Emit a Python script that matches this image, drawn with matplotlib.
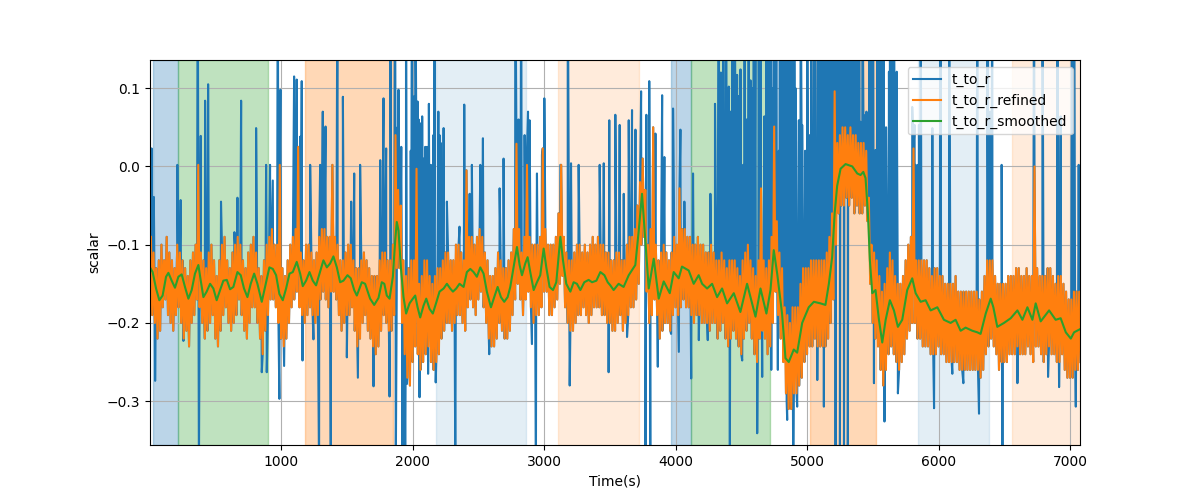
import numpy as np
import matplotlib
matplotlib.use("Agg")
import matplotlib.pyplot as plt

# ---------------- data ----------------
# t_to_r_refined: local maxima (t = 10, 30, 50, ...) and minima (t = 20, 40, 60, ...)
peak_start, trough_start, half_period = 10, 20, 20

refined_peaks = [
    -0.09, -0.11, -0.13, -0.12, -0.10, -0.12, -0.09, -0.11, -0.12, -0.13,
    -0.10, -0.11, -0.12, -0.13, -0.14, -0.12, -0.11, -0.10, 0.002, -0.11,
    -0.12, -0.13, -0.11, -0.10, -0.12, -0.14, -0.12, -0.10, -0.09, -0.12,
    -0.13, -0.11, -0.10, -0.09, -0.10, -0.12, -0.13, -0.11, -0.10, -0.09,
    -0.11, -0.13, -0.14, -0.12, -0.10, -0.09, -0.08, -0.10, -0.10, 0.002,
    -0.13, -0.14, -0.12, -0.10, -0.09, -0.08, 0.025, -0.11, -0.12, -0.10,
    -0.10, -0.11, -0.12, -0.11, -0.09, -0.08, -0.08, -0.09, -0.09, 0.002,
    -0.09, -0.10, -0.12, -0.12, -0.11, -0.10, -0.10, -0.12, -0.13, -0.13,
    -0.12, -0.11, -0.12, -0.13, -0.14, -0.14, -0.14, -0.12, -0.11, -0.11,
    -0.12, -0.12, -0.10, 0.04, -0.03, -0.05, -0.12, -0.14, -0.13, -0.12,
    -0.12, -0.003, -0.15, -0.14, -0.12, -0.12, -0.14, -0.15, -0.14, -0.13,
    -0.13, -0.12, -0.11, -0.11, -0.12, -0.12, -0.10, -0.10, -0.11, -0.12,
    -0.005, -0.09, -0.09, -0.10, -0.09, -0.08, -0.09, -0.11, -0.12, -0.14,
    -0.14, -0.13, -0.11, -0.12, -0.13, -0.13, -0.12, -0.11, -0.08, 0.029,
    -0.08, -0.11, -0.09, 0.002, -0.09, -0.10, -0.10, -0.10, -0.09, 0.023,
    -0.08, -0.10, -0.10, -0.10, -0.09, -0.06, 0.002, -0.09, -0.11, -0.12,
    -0.12, -0.11, -0.10, -0.10, -0.11, -0.10, -0.11, -0.10, -0.09, -0.10,
    -0.09, -0.10, -0.10, -0.11, -0.11, -0.12, -0.12, -0.11, -0.11, -0.12,
    -0.12, -0.10, -0.09, -0.09, -0.08, -0.05, -0.02, 0.01, -0.03, -0.10,
    -0.08, 0.05, -0.10, -0.12, -0.11, -0.10, -0.11, -0.12, -0.11, -0.09,
    -0.10, -0.028, -0.08, -0.08, -0.09, -0.09, -0.10, -0.10, -0.09, -0.10,
    -0.10, -0.11, -0.11, -0.10, -0.11, -0.12, -0.12, -0.11, -0.12, -0.13,
    -0.12, -0.12, -0.12, -0.13, -0.14, -0.12, -0.11, -0.10, -0.12, -0.13,
    -0.14, -0.12, -0.028, -0.12, -0.13, -0.12, -0.09, 0.051, -0.07, -0.11,
    -0.13, -0.18, -0.19, -0.20, -0.18, -0.18, -0.18, -0.15, -0.13, -0.13,
    -0.13, -0.12, -0.12, -0.12, -0.12, -0.12, -0.12, -0.11, -0.09, -0.06,
    0.096, 0.03, 0.04, 0.05, 0.05, 0.04, 0.05, 0.04, 0.04, 0.03,
    0.03, 0.03, 0.02, -0.04, -0.10, -0.11, -0.12, -0.14, -0.16, -0.15,
    -0.13, -0.11, -0.12, -0.14, -0.15, -0.15, -0.14, -0.12, -0.10, -0.09,
    0.023, -0.12, -0.12, -0.12, -0.12, -0.12, -0.13, -0.14, -0.13, -0.13,
    -0.14, -0.14, -0.15, -0.15, -0.15, -0.15, -0.14, -0.16, -0.16, -0.16,
    -0.16, -0.16, -0.16, -0.16, -0.16, -0.17, -0.16, -0.14, -0.12, -0.12,
    -0.12, -0.14, -0.15, -0.15, -0.15, -0.15, -0.14, -0.14, -0.14, -0.13,
    -0.13, -0.14, -0.14, -0.13, -0.14, -0.14, 0.0, -0.13, -0.14, -0.14,
    -0.14, -0.13, -0.13, -0.14, -0.15, -0.14, -0.14, -0.15, -0.16, -0.17,
    -0.17, -0.16, -0.16, -0.16,
]
refined_troughs = [
    -0.19, -0.20, -0.22, -0.21, -0.18, -0.17, -0.19, -0.20, -0.21, -0.19,
    -0.18, -0.20, -0.22, -0.21, -0.23, -0.20, -0.19, -0.17, -0.18, -0.20,
    -0.22, -0.21, -0.20, -0.19, -0.22, -0.23, -0.21, -0.19, -0.18, -0.20,
    -0.21, -0.20, -0.19, -0.17, -0.19, -0.21, -0.22, -0.20, -0.18, -0.18,
    -0.20, -0.22, -0.24, -0.21, -0.19, -0.17, -0.17, -0.18, -0.20, -0.22,
    -0.23, -0.22, -0.20, -0.18, -0.17, -0.16, -0.18, -0.19, -0.20, -0.19,
    -0.18, -0.19, -0.20, -0.19, -0.17, -0.16, -0.17, -0.18, -0.16, -0.16,
    -0.17, -0.19, -0.21, -0.20, -0.19, -0.19, -0.18, -0.21, -0.23, -0.22,
    -0.20, -0.19, -0.21, -0.22, -0.23, -0.24, -0.23, -0.21, -0.19, -0.20,
    -0.21, -0.21, -0.19, -0.13, -0.13, -0.20, -0.24, -0.27, -0.28, -0.25,
    -0.23, -0.24, -0.26, -0.25, -0.24, -0.23, -0.25, -0.26, -0.25, -0.24,
    -0.22, -0.21, -0.20, -0.20, -0.21, -0.20, -0.19, -0.19, -0.20, -0.21,
    -0.18, -0.17, -0.18, -0.19, -0.17, -0.16, -0.18, -0.20, -0.22, -0.23,
    -0.23, -0.22, -0.20, -0.21, -0.22, -0.22, -0.21, -0.19, -0.17, -0.15,
    -0.17, -0.19, -0.17, -0.16, -0.18, -0.20, -0.19, -0.19, -0.18, -0.16,
    -0.16, -0.19, -0.19, -0.18, -0.17, -0.15, -0.14, -0.18, -0.20, -0.21,
    -0.21, -0.20, -0.19, -0.19, -0.18, -0.19, -0.20, -0.19, -0.18, -0.18,
    -0.18, -0.19, -0.19, -0.20, -0.20, -0.21, -0.21, -0.20, -0.19, -0.21,
    -0.20, -0.19, -0.18, -0.18, -0.17, -0.15, -0.10, -0.09, -0.16, -0.20,
    -0.19, -0.17, -0.19, -0.22, -0.21, -0.20, -0.20, -0.21, -0.19, -0.18,
    -0.19, -0.18, -0.17, -0.18, -0.18, -0.19, -0.20, -0.19, -0.19, -0.20,
    -0.20, -0.20, -0.21, -0.20, -0.20, -0.22, -0.21, -0.20, -0.22, -0.23,
    -0.22, -0.21, -0.22, -0.23, -0.24, -0.22, -0.21, -0.20, -0.22, -0.24,
    -0.25, -0.22, -0.21, -0.22, -0.24, -0.23, -0.20, -0.16, -0.19, -0.22,
    -0.25, -0.29, -0.31, -0.31, -0.29, -0.29, -0.28, -0.27, -0.25, -0.24,
    -0.23, -0.23, -0.22, -0.23, -0.23, -0.23, -0.23, -0.22, -0.20, -0.17,
    -0.10, -0.06, -0.05, -0.05, -0.04, -0.05, -0.04, -0.06, -0.05, -0.06,
    -0.06, -0.05, -0.07, -0.15, -0.20, -0.22, -0.23, -0.26, -0.28, -0.26,
    -0.24, -0.23, -0.24, -0.25, -0.26, -0.25, -0.24, -0.22, -0.21, -0.20,
    -0.20, -0.22, -0.22, -0.23, -0.23, -0.23, -0.24, -0.24, -0.24, -0.23,
    -0.24, -0.24, -0.25, -0.25, -0.25, -0.25, -0.25, -0.26, -0.26, -0.26,
    -0.26, -0.26, -0.26, -0.26, -0.26, -0.27, -0.26, -0.24, -0.23, -0.22,
    -0.23, -0.24, -0.26, -0.25, -0.25, -0.25, -0.24, -0.24, -0.24, -0.23,
    -0.24, -0.24, -0.24, -0.23, -0.24, -0.25, -0.23, -0.23, -0.24, -0.25,
    -0.24, -0.23, -0.24, -0.24, -0.25, -0.25, -0.24, -0.26, -0.27, -0.27,
    -0.27, -0.26, -0.26, -0.25,
]

# isolated outliers present in the raw t_to_r signal (time, value)
outlier_t = [
    15, 32, 42, 211, 236, 257, 366, 375, 389, 422, 445, 543, 645, 668, 696,
    810, 853, 886, 891, 916, 937, 975, 987, 995, 1023, 1099, 1119, 1145,
    1157, 1163, 1221, 1246, 1289, 1297, 1317, 1338, 1378, 1429, 1470, 1500,
    1533, 1556, 1584, 1601, 1703, 1754, 1779, 1799, 1825, 1830, 1866, 1872,
    1893, 1914, 1922, 1944, 1950, 1957, 1995, 2020, 2038, 2053, 2058, 2073,
    2096, 2110, 2118, 2139, 2168, 2176, 2205, 2236, 2261, 2325, 2357, 2393,
    2434, 2451, 2515, 2535, 2583, 2662, 2692, 2781, 2796, 2870, 2890, 2908,
    2938, 2946, 2984, 3002, 3124, 3180, 3195, 3205, 3263, 3423, 3454, 3491,
    3496, 3542, 3575, 3606, 3631, 3644, 3669, 3695, 3738, 3771, 3778, 3800,
    3808, 3847, 3865, 3898, 3915, 3966, 3981, 4025, 4037, 4067, 4119, 4133,
    4177, 4245, 4265, 4329, 4362, 4405, 4413, 4430, 4468, 4494, 4507, 4514,
    4557, 4583, 4608, 4621, 4646, 4659, 4676, 4709, 4722, 4728, 4747, 4768,
    4778, 4786, 4798, 4815, 4832, 4849, 4862, 4876, 4887, 4895, 4905, 4916,
    4925, 4938, 4951, 4963, 4986, 5001, 5016, 5031, 5047, 5061, 5072, 5078,
    5090, 5101, 5115, 5128, 5141, 5156, 5174, 5186, 5204, 5217, 5226, 5242,
    5250, 5261, 5268, 5281, 5291, 5302, 5310, 5321, 5344, 5356, 5369, 5391,
    5407, 5421, 5445, 5461, 5483, 5496, 5509, 5521, 5536, 5546, 5559, 5571,
    5581, 5589, 5601, 5623, 5641, 5656, 5666, 5682, 5691, 5800, 5818, 5826,
    5843, 5851, 5864, 5953, 5966, 6016, 6080, 6105, 6189, 6295, 6308, 6371,
    6392, 6409, 6480, 6486, 6600, 6726, 6790, 6833, 6904, 6917, 6929, 7018,
    7031, 7044, 7066,
]
outlier_v = [
    0.023, -0.039, -0.274, 0.002, -0.043, -0.223, 0.3, -0.4, 0.039, 0.084,
    0.105, -0.045, -0.084, -0.040, 0.084, 0.049, -0.263, 0.002, -0.263, 0.002,
    -0.018, 0.3, -0.297, 0.098, -0.255, 0.115, 0.111, 0.038, 0.109, -0.248,
    0.002, -0.221, -0.4, 0.002, 0.070, 0.051, -0.4, 0.3, 0.089, -0.244,
    -0.045, -0.009, -0.270, 0.002, -0.281, 0.008, 0.087, 0.023, -0.294, 0.3,
    0.3, -0.4, 0.098, 0.025, -0.4, -0.4, 0.3, -0.278, 0.3, 0.3,
    0.083, -0.295, 0.055, 0.064, 0.025, 0.025, -0.265, 0.002, 0.3, -0.276,
    0.040, 0.049, -0.045, -0.4, -0.077, 0.079, -0.035, 0.002, 0.002, 0.036,
    -0.240, -0.028, 0.010, 0.3, 0.029, 0.021, 0.059, -0.227, -0.4, -0.009,
    0.015, 0.087, 0.002, 0.3, -0.280, 0.004, 0.002, 0.002, 0.004, -0.263,
    0.059, 0.066, 0.053, -0.035, -0.218, 0.059, 0.072, 0.047, 0.096, -0.4,
    0.066, 0.109, -0.4, 0.042, -0.256, 0.091, 0.012, -0.214, 0.074, -0.237,
    0.047, -0.045, -0.271, -0.009, -0.222, -0.222, -0.035, 0.3, 0.3, 0.102,
    -0.4, 0.3, 0.117, 0.124, -0.248, 0.002, 0.3, 0.100, 0.3, -0.341,
    0.3, -0.269, 0.064, 0.3, 0.05, -0.260, 0.3, 0.3, -0.26, 0.02,
    0.106, 0.3, 0.01, -0.324, 0.3, 0.06, 0.3, -0.4, 0.3, 0.03,
    -0.307, 0.059, 0.3, 0.053, 0.02, 0.3, 0.04, 0.3, 0.025, 0.3,
    0.017, -0.273, 0.3, 0.05, 0.012, -0.307, 0.3, 0.02, 0.3, 0.06,
    0.3, -0.4, 0.3, 0.3, -0.4, 0.04, 0.072, -0.4, 0.3, 0.3,
    -0.4, 0.06, 0.3, 0.05, 0.3, 0.03, 0.057, 0.3, 0.066, 0.02,
    0.124, 0.01, -0.277, 0.021, 0.3, 0.03, 0.3, 0.02, 0.3, -0.326,
    0.05, 0.121, 0.02, -0.028, 0.04, 0.121, -0.290, 0.076, 0.053, 0.002,
    0.002, 0.053, 0.3, 0.049, -0.309, 0.3, 0.3, -0.265, -0.277, 0.3,
    -0.316, 0.3, 0.070, 0.3, 0.002, -0.4, -0.277, 0.3, 0.3, -0.269,
    0.3, -0.282, 0.064, 0.3, 0.3, -0.307, 0.002,
]

# bursts of raw outliers (time, value)
burst_t = [
    1886, 1938, 1986, 2013, 2046, 2084, 2124, 2158, 2196, 2214,
    2806, 2826, 2852, 2862, 2878,
    4300, 4345, 4385, 4418, 4450, 4480, 4525, 4540, 4570, 4595, 4632, 4690,
    4725, 4735, 4755, 4762, 4792, 4805, 4812, 4825, 4840, 4845, 4855, 4868,
    4882, 4900, 4912, 4958, 5054, 5066, 5084, 5096, 5108, 5122, 5135, 5148,
    5162, 5168, 5180, 5195, 5210, 5234, 5246, 5256, 5274, 5286, 5296, 5315,
    5328, 5336, 5350, 5362, 5376, 5384, 5398, 5414, 5428, 5437, 5452, 5468,
    5476, 5490, 5502, 5553, 5565, 5576, 5630, 5648, 5660,
]
burst_v = [
    0.05, -0.4, 0.02, 0.09, 0.06, 0.01, 0.08, 0.04, 0.07, 0.03,
    0.06, 0.3, 0.04, 0.02, 0.07,
    0.08, 0.12, 0.3, 0.07, 0.3, 0.09, 0.3, 0.06, 0.11, 0.3, 0.3, 0.3,
    0.3, 0.1, 0.3, 0.05, 0.3, 0.08, 0.3, 0.3, 0.3, -0.3, 0.3, 0.06,
    0.3, 0.3, 0.1, 0.06, 0.3, 0.03, 0.3, 0.3, 0.3, 0.3, 0.3, 0.3,
    0.3, -0.2, 0.3, 0.3, 0.3, 0.3, 0.3, 0.3, 0.3, 0.3, 0.3, 0.3,
    0.3, 0.3, 0.3, 0.3, 0.3, 0.3, 0.3, 0.05, 0.08, 0.04, 0.07, 0.05,
    0.3, 0.3, 0.3, 0.3, 0.3, 0.3, 0.3, 0.3, 0.3,
]

# t_to_r_smoothed (time, value)
smoothed_t = [
    3, 23, 49, 74, 99, 125, 143, 168, 193, 219, 244, 269, 295, 320, 345,
    371, 389, 409, 434, 460, 485, 510, 536, 561, 587, 612, 637, 668, 693,
    718, 744, 769, 795, 820, 853, 878, 911, 937, 962, 987, 1013, 1038, 1064,
    1089, 1119, 1145, 1165, 1190, 1216, 1241, 1266, 1292, 1322, 1348, 1373,
    1398, 1424, 1449, 1474, 1505, 1530, 1556, 1576, 1614, 1639, 1677, 1708,
    1741, 1766, 1785, 1804, 1825, 1850, 1868, 1880, 1893, 1911, 1931, 1951,
    1977, 2002, 2020, 2038, 2058, 2083, 2104, 2129, 2154, 2180, 2205, 2236,
    2261, 2286, 2307, 2332, 2357, 2388, 2413, 2439, 2464, 2489, 2515, 2540,
    2565, 2596, 2621, 2647, 2672, 2697, 2723, 2743, 2768, 2794, 2814, 2832,
    2857, 2875, 2895, 2921, 2946, 2971, 2997, 3017, 3042, 3068, 3093, 3124,
    3144, 3169, 3200, 3225, 3250, 3276, 3306, 3339, 3365, 3398, 3428, 3459,
    3484, 3504, 3529, 3567, 3605, 3644, 3694, 3720, 3745, 3770, 3796, 3834,
    3872, 3910, 3956, 3986, 4024, 4049, 4100, 4138, 4176, 4202, 4240, 4278,
    4316, 4354, 4392, 4443, 4493, 4544, 4608, 4646, 4691, 4722, 4747, 4773,
    4810, 4836, 4861, 4899, 4925, 4963, 5013, 5052, 5102, 5140, 5166, 5191,
    5210, 5229, 5255, 5293, 5344, 5382, 5407, 5428, 5445, 5463, 5478, 5496,
    5521, 5547, 5572, 5598, 5630, 5661, 5691, 5724, 5762, 5800, 5826, 5864,
    5902, 5940, 5991, 6041, 6092, 6130, 6168, 6206, 6257, 6295, 6320, 6359,
    6397, 6417, 6447, 6498, 6549, 6600, 6638, 6676, 6714, 6739, 6777, 6841,
    6891, 6929, 6968, 7006, 7031, 7076,
]
smoothed_v = [
    -0.129, -0.135, -0.156, -0.171, -0.165, -0.141, -0.136, -0.146, -0.155,
    -0.141, -0.138, -0.154, -0.169, -0.158, -0.137, -0.126, -0.146, -0.167,
    -0.160, -0.150, -0.156, -0.171, -0.158, -0.146, -0.145, -0.157, -0.154,
    -0.135, -0.139, -0.156, -0.167, -0.150, -0.137, -0.150, -0.173, -0.154,
    -0.129, -0.131, -0.139, -0.163, -0.171, -0.156, -0.137, -0.135, -0.122,
    -0.137, -0.153, -0.146, -0.135, -0.146, -0.152, -0.137, -0.120, -0.129,
    -0.124, -0.115, -0.129, -0.148, -0.146, -0.139, -0.143, -0.158, -0.165,
    -0.148, -0.150, -0.169, -0.177, -0.168, -0.148, -0.150, -0.165, -0.169,
    -0.141, -0.094, -0.071, -0.082, -0.129, -0.167, -0.188, -0.175, -0.169,
    -0.165, -0.180, -0.193, -0.178, -0.169, -0.182, -0.188, -0.174, -0.160,
    -0.156, -0.150, -0.156, -0.160, -0.156, -0.150, -0.154, -0.135, -0.131,
    -0.135, -0.141, -0.129, -0.137, -0.160, -0.180, -0.167, -0.154, -0.167,
    -0.173, -0.167, -0.154, -0.129, -0.103, -0.126, -0.139, -0.124, -0.116,
    -0.135, -0.158, -0.148, -0.139, -0.105, -0.129, -0.154, -0.158, -0.148,
    -0.090, -0.120, -0.150, -0.160, -0.148, -0.150, -0.158, -0.148, -0.145,
    -0.148, -0.146, -0.135, -0.139, -0.148, -0.152, -0.158, -0.150, -0.154,
    -0.139, -0.126, -0.082, -0.035, -0.094, -0.156, -0.118, -0.169, -0.147,
    -0.162, -0.135, -0.143, -0.128, -0.133, -0.150, -0.139, -0.150, -0.156,
    -0.150, -0.167, -0.156, -0.175, -0.162, -0.186, -0.150, -0.192, -0.156,
    -0.188, -0.158, -0.107, -0.137, -0.188, -0.245, -0.250, -0.234, -0.238,
    -0.200, -0.180, -0.173, -0.175, -0.177, -0.150, -0.116, -0.060, -0.025,
    -0.003, 0.003, 0.000, -0.009, -0.011, -0.007, -0.015, -0.060, -0.120,
    -0.162, -0.158, -0.196, -0.225, -0.196, -0.171, -0.184, -0.205, -0.196,
    -0.158, -0.143, -0.162, -0.173, -0.171, -0.184, -0.180, -0.196, -0.200,
    -0.196, -0.210, -0.206, -0.210, -0.212, -0.214, -0.188, -0.169, -0.180,
    -0.205, -0.200, -0.194, -0.184, -0.196, -0.180, -0.196, -0.175, -0.198,
    -0.184, -0.196, -0.194, -0.212, -0.220, -0.212, -0.208,
]

# shaded intervals
span_start = [25, 218, 1183, 2178, 3109, 3962, 4114, 5020, 5843, 6558]
span_end = [218, 899, 1853, 2863, 3719, 4114, 4721, 5523, 6381, 7100]
span_color = ["tab:blue", "tab:green", "tab:orange", "tab:blue", "tab:orange",
              "tab:blue", "tab:green", "tab:orange", "tab:blue", "tab:orange"]
span_alpha = [0.3, 0.3, 0.3, 0.12, 0.15, 0.3, 0.3, 0.3, 0.12, 0.15]

# ---------------- build series ----------------
n = len(refined_peaks)
tp = peak_start + half_period * np.arange(n)
tt = trough_start + half_period * np.arange(n)
refined_t = np.column_stack([tp, tt]).ravel()
refined_v = np.column_stack([refined_peaks, refined_troughs]).ravel()

raw_t = np.concatenate([refined_t, np.array(outlier_t, float), np.array(burst_t, float)])
raw_v = np.concatenate([refined_v, np.array(outlier_v), np.array(burst_v)])
order = np.argsort(raw_t, kind="stable")
raw_t, raw_v = raw_t[order], raw_v[order]

# ---------------- plot ----------------
fig, ax = plt.subplots(figsize=(12, 5), dpi=100)
for s, e, c, a in zip(span_start, span_end, span_color, span_alpha):
    ax.axvspan(s, e, color=c, alpha=a)

ax.plot(raw_t, raw_v, color="tab:blue", label="t_to_r")
ax.plot(refined_t, refined_v, color="tab:orange", label="t_to_r_refined")
ax.plot(smoothed_t, smoothed_v, color="tab:green", label="t_to_r_smoothed")

ax.set_xlim(3, 7076)
ax.set_ylim(-0.356, 0.136)
ax.set_xticks([1000, 2000, 3000, 4000, 5000, 6000, 7000])
ax.set_yticks([-0.3, -0.2, -0.1, 0.0, 0.1])
ax.grid(True)
ax.set_xlabel("Time(s)")
ax.set_ylabel("scalar")
ax.legend(loc="upper right")

fig.savefig("out.png", dpi=100)
